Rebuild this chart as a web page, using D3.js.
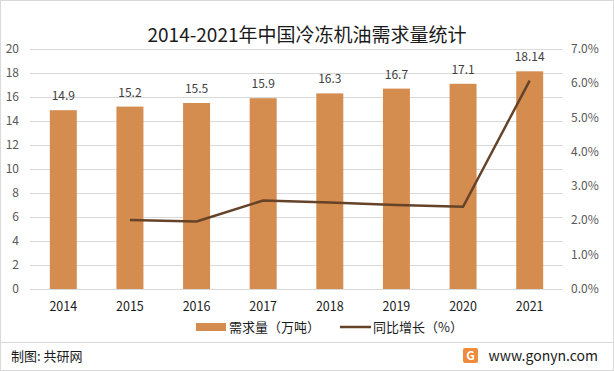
<!DOCTYPE html>
<html lang="zh">
<head>
<meta charset="utf-8">
<title>冷冻机油需求量</title>
<script src="https://d3js.org/d3.v7.min.js"></script>
<style>
  body { margin: 0; background: #fff; }
  svg text { font-family: "Microsoft YaHei", "Noto Sans CJK SC", "DejaVu Sans", sans-serif; }
</style>
</head>
<body>
<script>
// ---- data ----
var years = ["2014", "2015", "2016", "2017", "2018", "2019", "2020", "2021"];
var demand = [14.9, 15.2, 15.5, 15.9, 16.3, 16.7, 17.1, 18.14];
var growth = [null, 2.01, 1.97, 2.58, 2.52, 2.45, 2.40, 6.08]; // %
var leftTicks = [0, 2, 4, 6, 8, 10, 12, 14, 16, 18, 20];
var rightTicks = [0, 1, 2, 3, 4, 5, 6, 7];

var width = 614, height = 371;
var barColor = "#D48C4F", lineColor = "#654329";

var svg = d3.select("body").append("svg")
  .attr("width", width).attr("height", height);

// outer frame
svg.append("rect").attr("x", 0.5).attr("y", 0.5)
  .attr("width", width - 1).attr("height", height - 1)
  .attr("fill", "#fff").attr("stroke", "#d9d9d9");

// title
svg.append("text").attr("x", 307).attr("y", 42)
  .attr("text-anchor", "middle").attr("font-size", 19).attr("fill", "#1a1a1a")
  .text("2014-2021年中国冷冻机油需求量统计");

// scales
var x = d3.scaleBand().domain(years).range([30, 563]).paddingInner(0.595).paddingOuter(0.2975);
var y = d3.scaleLinear().domain([0, 20]).range([289, 49]);
var y2 = d3.scaleLinear().domain([0, 7]).range([289, 49]);

// gridlines
svg.append("g").selectAll("line").data(leftTicks).enter().append("line")
  .attr("x1", 30).attr("x2", 563)
  .attr("y1", function(d){ return Math.round(y(d)) + 0.5; })
  .attr("y2", function(d){ return Math.round(y(d)) + 0.5; })
  .attr("stroke", "#d9d9d9").attr("stroke-width", 1);

// left axis labels
svg.append("g").selectAll("text").data(leftTicks).enter().append("text")
  .attr("x", 19).attr("y", function(d){ return y(d) + 4; })
  .attr("text-anchor", "end").attr("font-size", 12).attr("fill", "#595959")
  .text(function(d){ return d; });

// right axis labels
svg.append("g").selectAll("text").data(rightTicks).enter().append("text")
  .attr("x", 571).attr("y", function(d){ return y2(d) + 4; })
  .attr("text-anchor", "start").attr("font-size", 12).attr("fill", "#595959")
  .text(function(d){ return d.toFixed(1) + "%"; });

// bars
svg.append("g").selectAll("rect").data(demand).enter().append("rect")
  .attr("x", function(d, i){ return x(years[i]); })
  .attr("y", function(d){ return y(d); })
  .attr("width", x.bandwidth())
  .attr("height", function(d){ return y(0) - y(d); })
  .attr("fill", barColor);

// bar labels
svg.append("g").selectAll("text").data(demand).enter().append("text")
  .attr("x", function(d, i){ return x(years[i]) + x.bandwidth() / 2; })
  .attr("y", function(d){ return y(d) - 10; })
  .attr("text-anchor", "middle").attr("font-size", 12).attr("fill", "#404040")
  .text(function(d){ return d; });

// x labels
svg.append("g").selectAll("text").data(years).enter().append("text")
  .attr("x", function(d){ return x(d) + x.bandwidth() / 2; })
  .attr("y", 311)
  .attr("text-anchor", "middle").attr("font-size", 12.5).attr("fill", "#1a1a1a")
  .text(function(d){ return d; });

// growth line
var line = d3.line()
  .defined(function(d){ return d !== null; })
  .x(function(d, i){ return x(years[i]) + x.bandwidth() / 2; })
  .y(function(d){ return y2(d); });
svg.append("path").datum(growth)
  .attr("d", line).attr("fill", "none")
  .attr("stroke", lineColor).attr("stroke-width", 2.5).attr("stroke-linejoin", "round");

// legend
var lg = svg.append("g");
lg.append("rect").attr("x", 196).attr("y", 323).attr("width", 30).attr("height", 8).attr("fill", barColor);
lg.append("text").attr("x", 229).attr("y", 332).attr("font-size", 13).attr("fill", "#1a1a1a").text("需求量（万吨）");
lg.append("line").attr("x1", 340).attr("x2", 371).attr("y1", 327).attr("y2", 327)
  .attr("stroke", lineColor).attr("stroke-width", 2.5);
lg.append("text").attr("x", 373).attr("y", 332).attr("font-size", 13).attr("fill", "#1a1a1a").text("同比增长（%）");

// footer
svg.append("line").attr("x1", 1).attr("x2", 613).attr("y1", 342.5).attr("y2", 342.5)
  .attr("stroke", "#d9d9d9");
svg.append("text").attr("x", 11).attr("y", 361).attr("font-size", 13).attr("fill", "#1a1a1a")
  .text("制图: 共研网");
var logo = svg.append("g").attr("transform", "translate(463,348)");
logo.append("rect").attr("width", 15).attr("height", 15).attr("rx", 2).attr("fill", "#F08A3C");
logo.append("text").attr("x", 7.5).attr("y", 12).attr("text-anchor", "middle")
  .attr("font-size", 12).attr("font-weight", "bold").attr("fill", "#fff").text("G");
svg.append("text").attr("x", 598).attr("y", 361).attr("text-anchor", "end")
  .attr("font-size", 14).attr("fill", "#1a1a1a").text("www.gonyn.com");
</script>
</body>
</html>
